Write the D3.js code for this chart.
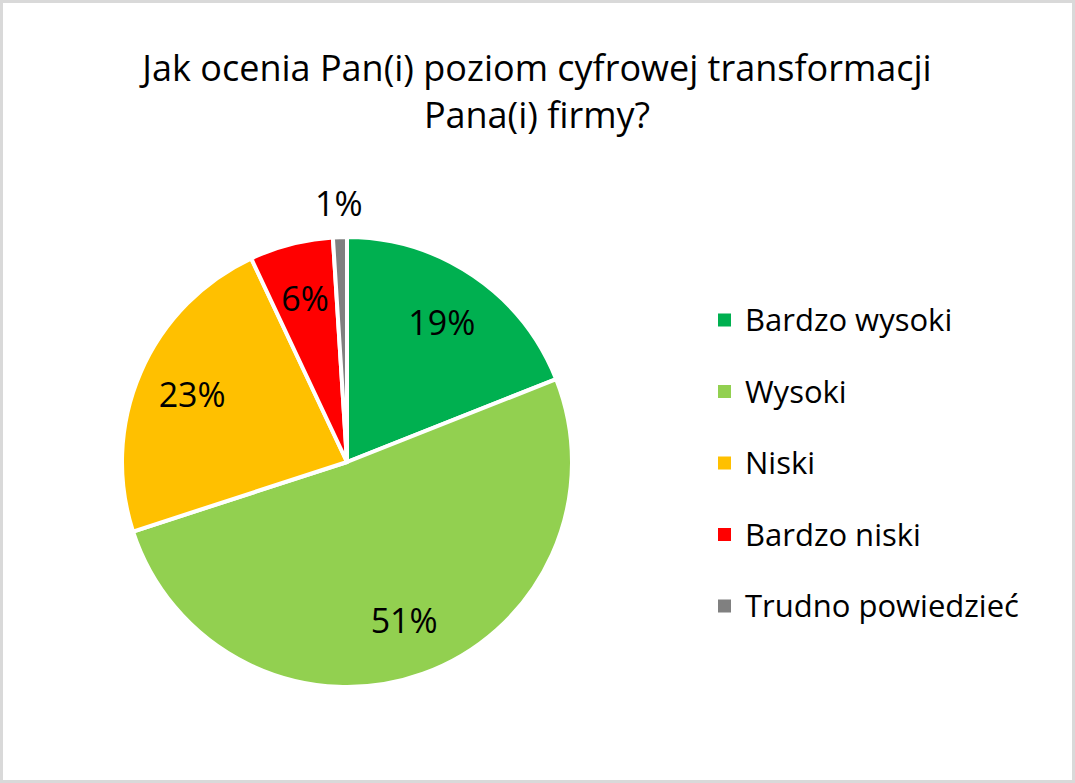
<!DOCTYPE html>
<html>
<head>
<meta charset="UTF-8">
<style>
body { margin: 0; background: #fff; }
text { font-family: "Open Sans", "Liberation Sans", sans-serif; fill: #000; }
</style>
</head>
<body>
<svg width="1075" height="783"></svg>
<script src="https://cdn.jsdelivr.net/npm/d3@7/dist/d3.min.js"></script>
<script>
var categories = ["Bardzo wysoki", "Wysoki", "Niski", "Bardzo niski", "Trudno powiedzieć"];
var values = [19, 51, 23, 6, 1];
var colors = ["#00B050", "#92D050", "#FFC000", "#FF0000", "#808080"];
var titleLines = ["Jak ocenia Pan(i) poziom cyfrowej transformacji", "Pana(i) firmy?"];

var svg = d3.select("svg"),
    W = +svg.attr("width"),
    H = +svg.attr("height");

// chart border
svg.append("rect")
    .attr("x", 1.5).attr("y", 1.5)
    .attr("width", W - 3).attr("height", H - 3)
    .attr("fill", "#fff")
    .attr("stroke", "#d9d9d9")
    .attr("stroke-width", 3);

svg.append("g").selectAll("text")
    .data(titleLines)
    .enter().append("text")
    .attr("x", 537)
    .attr("y", function(d, i) { return 81 + i * 47; })
    .attr("text-anchor", "middle")
    .style("font-size", "36px")
    .text(function(d) { return d; });

var cx = 347, cy = 462, r = 225;

var data = categories.map(function(c, i) { return {name: c, value: values[i], color: colors[i]}; });

var pie = d3.pie().sort(null).value(function(d) { return d.value; });
var arc = d3.arc().innerRadius(0).outerRadius(r);
var arcs = pie(data);

var g = svg.append("g").attr("transform", "translate(" + cx + "," + cy + ")");

g.selectAll("path")
    .data(arcs)
    .enter().append("path")
    .attr("d", arc)
    .attr("fill", function(d) { return d.data.color; })
    .attr("stroke", "#fff")
    .attr("stroke-width", 4)
    .attr("stroke-linejoin", "round");

var inLabel = d3.arc().innerRadius(r * 0.75).outerRadius(r * 0.75);
var outLabel = d3.arc().innerRadius(r * 1.15).outerRadius(r * 1.15);

g.selectAll("text.lbl")
    .data(arcs)
    .enter().append("text")
    .attr("class", "lbl")
    .attr("transform", function(d) {
      var p = d.data.value < 3 ? outLabel.centroid(d) : inLabel.centroid(d);
      return "translate(" + p[0] + "," + p[1] + ")";
    })
    .attr("text-anchor", "middle")
    .attr("dy", "0.36em")
    .style("font-size", "34px")
    .text(function(d) { return d.data.value + "%"; });

// legend
var legend = svg.append("g").attr("transform", "translate(718,320)");
var row = legend.selectAll("g")
    .data(data)
    .enter().append("g")
    .attr("transform", function(d, i) { return "translate(0," + (i * 71.5) + ")"; });

row.append("rect")
    .attr("x", 0).attr("y", -6.5)
    .attr("width", 13).attr("height", 13)
    .attr("fill", function(d) { return d.color; });

row.append("text")
    .attr("x", 27)
    .attr("dy", "0.36em")
    .style("font-size", "31px")
    .text(function(d) { return d.name; });
</script>
</body>
</html>
